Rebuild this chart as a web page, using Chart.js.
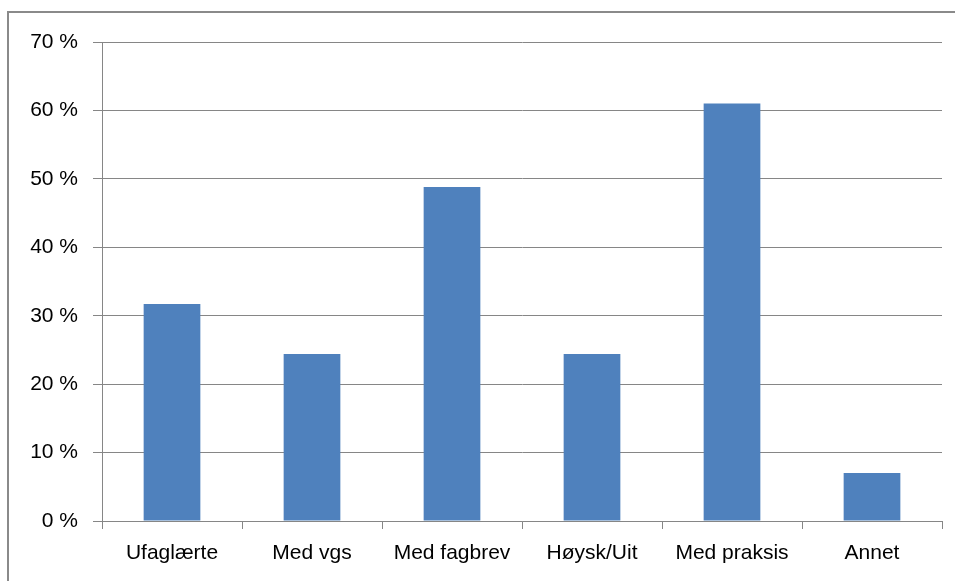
<html lang="no">
<head>
    <meta charset="UTF-8">
    <title>Utdanning</title>
    <script src="https://cdn.jsdelivr.net/npm/chart.js"></script>
    <style>
        body {
            margin: 0;
            background: #fff;
        }
        #frame {
            position: absolute;
            left: 7px;
            top: 11px;
            width: 948px;
            height: 570px;
            border-top: 2px solid #8a8a8a;
            border-left: 2px solid #8a8a8a;
        }
        #chart-container {
            position: absolute;
            left: 0;
            top: 0;
            width: 955px;
            height: 581px;
        }
    </style>
</head>
<body>
    <div id="frame"></div>
    <div id="chart-container">
        <canvas id="eduChart"></canvas>
    </div>

    <script>
        const categories = ['Ufaglærte', 'Med vgs', 'Med fagbrev', 'Høysk/Uit', 'Med praksis', 'Annet'];
        const shares = [31.7, 24.4, 48.8, 24.4, 61.0, 7.0];
        const yTicks = [0, 10, 20, 30, 40, 50, 60, 70];

        const gridColor = '#868686';
        const labelFont = { family: "'Liberation Sans', Arial, sans-serif", size: 21 };

        const ctx = document.getElementById('eduChart').getContext('2d');
        new Chart(ctx, {
            type: 'bar',
            data: {
                labels: categories,
                datasets: [{
                    data: shares,
                    backgroundColor: '#4f81bd',
                    borderWidth: 0,
                    barPercentage: 0.405,
                    categoryPercentage: 1.0
                }]
            },
            options: {
                responsive: true,
                maintainAspectRatio: false,
                animation: false,
                layout: {
                    padding: { top: 42, right: 13, left: 0, bottom: 0 }
                },
                plugins: {
                    legend: { display: false },
                    tooltip: { enabled: false }
                },
                scales: {
                    x: {
                        offset: true,
                        grid: {
                            offset: true,
                            drawOnChartArea: false,
                            drawTicks: true,
                            tickLength: 8,
                            color: gridColor
                        },
                        border: { display: true, color: gridColor },
                        ticks: {
                            color: '#000',
                            font: labelFont,
                            padding: 12,
                            maxRotation: 0
                        },
                        afterFit: (scale) => { scale.height = 60; }
                    },
                    y: {
                        min: 0,
                        max: 70,
                        afterBuildTicks: (scale) => {
                            scale.ticks = yTicks.map(v => ({ value: v }));
                        },
                        grid: {
                            color: gridColor,
                            tickLength: 9,
                            drawTicks: true
                        },
                        border: { display: true, color: gridColor },
                        ticks: {
                            color: '#000',
                            font: labelFont,
                            padding: 15,
                            callback: (v) => v + ' %'
                        },
                        afterFit: (scale) => { scale.width = 102; }
                    }
                }
            }
        });
    </script>
</body>
</html>
